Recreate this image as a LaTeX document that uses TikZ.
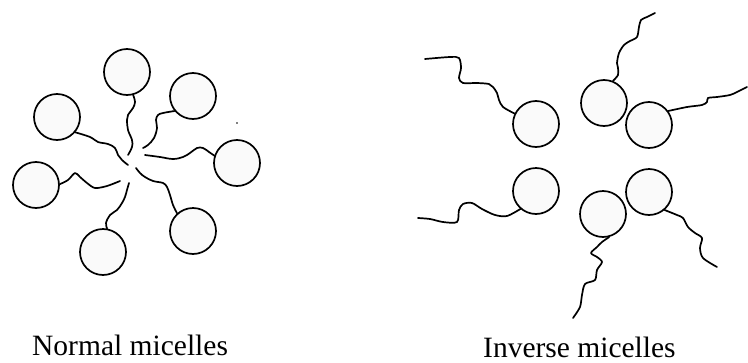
\documentclass[tikz,border=0pt]{standalone}
\usepackage{fontspec}
\setmainfont{Liberation Serif}
\begin{document}
\begin{tikzpicture}[x=1pt,y=-1pt,
  head/.style={circle,draw,line width=1.7pt,fill=black!2,minimum size=46pt,inner sep=0pt},
  tail/.style={line width=1.7pt,line cap=round,line join=round},
  caption/.style={anchor=base west,inner sep=0pt,font=\fontsize{29.5}{32}\selectfont}]
\useasboundingbox (0,0) rectangle (748,362);

% ---------- normal micelle: heads outside, tails meet in the middle ----------
\node[head] (n1) at (127,72)  {};
\node[head] (n2) at (193,96)  {};
\node[head] (n3) at (57,117)  {};
\node[head] (n4) at (237,163) {};
\node[head] (n5) at (36,185)  {};
\node[head] (n6) at (193,231) {};
\node[head] (n7) at (103,252) {};

\draw[tail] plot[smooth,tension=0.6] coordinates {(n1.-75) (135,102) (133,108) (128,115) (127,120) (128,130) (132,140) (132,147) (128,155)};
\draw[tail] plot[smooth,tension=0.6] coordinates {(n2.-141) (163,113) (158,115) (156,120) (157,128) (154,138) (148,145) (143,148)};
\draw[tail] plot[smooth,tension=0.6] coordinates {(n3.-40) (90,137) (98,142) (108,144) (115,148) (118,155) (122,160) (128,165)};
\draw[tail] plot[smooth,tension=0.6] coordinates {(n4.162) (209,152) (203,148) (197,148) (190,153) (183,157) (173,159) (160,157) (145,155)};
\draw[tail] plot[smooth,tension=0.5] coordinates {(n5.2) (68,180) (75,173) (80,177) (87,183) (95,188) (107,186) (120,181)};
\draw[tail] plot[smooth,tension=0.6] coordinates {(n6.132) (173,205) (170,195) (167,187) (163,183) (153,181) (145,177) (140,173) (136,168)};
\draw[tail] plot[smooth,tension=0.6] coordinates {(n7.80) (106,223) (110,215) (117,210) (122,203) (125,197) (127,190) (129,183)};

\fill (237,123) circle (0.9pt);

% ---------- inverse micelle: heads inside, tails pointing outwards ----------
\node[head] (ia) at (536,124) {};
\node[head] (ib) at (604,103) {};
\node[head] (ic) at (649,125) {};
\node[head] (id) at (536,191) {};
\node[head] (ie) at (649,192) {};
\node[head] (if) at (603,214) {};

\draw[tail] plot[smooth,tension=0.5] coordinates {(ia.154) (503,107) (499,100) (497,93) (493,87) (489,84) (477,83) (463,83) (459,78) (461,68) (459,58) (450,57) (425,59)};
\draw[tail] plot[smooth,tension=0.5] coordinates {(ib.68) (618,75) (618,68) (617,63) (619,53) (624,45) (630,41) (637,37) (639,27) (641,20) (647,17) (655,13)};
\draw[tail] plot[smooth,tension=0.5] coordinates {(ic.36) (687,107) (702,105) (707,102) (708,98) (717,97) (730,95) (737,92) (747,87)};
\draw[tail] plot[smooth,tension=0.5] coordinates {(id.-131) (507,216) (495,215) (482,209) (472,203) (463,204) (459,210) (457,222) (443,222) (430,219) (418,218)};
\draw[tail] plot[smooth,tension=0.5] coordinates {(ie.-49) (677,215) (683,218) (688,227) (695,233) (702,238) (700,248) (703,258) (717,267)};
\draw[tail] plot[smooth,tension=0.5] coordinates {(if.-75) (602,242) (597,247) (591,253) (597,257) (602,262) (597,270) (595,280) (585,284) (582,295) (580,307) (573,318)};

% ---------- captions ----------
\node[caption] (capn) at (32,355) {Normal micelles};
\node[caption] (capi) at (483,357) {Inverse micelles};
\end{tikzpicture}
\end{document}
